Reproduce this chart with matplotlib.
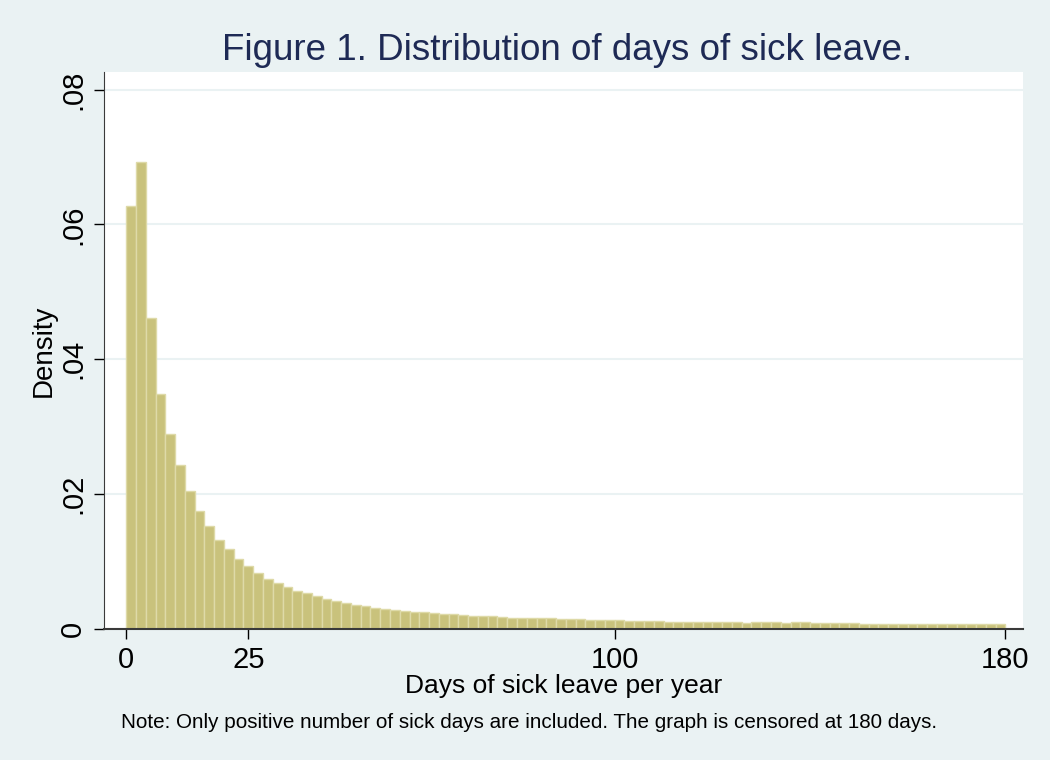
import numpy as np
import matplotlib.pyplot as plt

plt.rcParams['font.family'] = ['Liberation Sans Narrow', 'Liberation Sans', 'DejaVu Sans']

# density per 2-day bin (bins 0-2, 2-4, ..., 178-180)
bin_width = 2
density = [
    0.0628, 0.0692, 0.0461, 0.0348, 0.0289, 0.0243, 0.0205, 0.0175, 0.0153, 0.0132,
    0.0119, 0.0104, 0.0093, 0.0083, 0.0074, 0.0068, 0.0062, 0.0057, 0.0053, 0.0049,
    0.0045, 0.0041, 0.0038, 0.0035, 0.0034, 0.0031, 0.0030, 0.0028, 0.0027, 0.0025,
    0.0025, 0.0023, 0.0022, 0.0022, 0.0021, 0.0020, 0.0020, 0.0019, 0.0018, 0.0017,
    0.0017, 0.0017, 0.0016, 0.0016, 0.0015, 0.0015, 0.0015, 0.0014, 0.0014, 0.0013,
    0.0013, 0.0012, 0.0012, 0.0012, 0.0012, 0.0011, 0.0011, 0.0011, 0.0011, 0.0010,
    0.0010, 0.0011, 0.0010, 0.0009, 0.0010, 0.0010, 0.0010, 0.0009, 0.0010, 0.0010,
    0.0009, 0.0009, 0.0009, 0.0009, 0.0009, 0.0008, 0.0008, 0.0008, 0.0008, 0.0008,
    0.0008, 0.0008, 0.0007, 0.0007, 0.0007, 0.0007, 0.0007, 0.0007, 0.0007, 0.0007,
]
bin_left = np.arange(len(density)) * bin_width

x_ticks = [0, 25, 100, 180]
y_ticks = [0, 0.02, 0.04, 0.06, 0.08]
y_labels = ['0', '.02', '.04', '.06', '.08']

bg = '#EAF2F3'
fig = plt.figure(figsize=(10.5, 7.6), dpi=100, facecolor=bg)
ax = fig.add_axes([104 / 1050, 1 - 629 / 760, (1023 - 104) / 1050, (629 - 72) / 760])
ax.set_facecolor('white')

ax.bar(bin_left, density, width=bin_width, align='edge',
       color='#C9C27C', edgecolor='#DEDAA8', linewidth=1.0, zorder=2)

ax.set_xlim(-4.55, 183.6)
ax.set_ylim(0, 0.0826)
ax.set_xticks(x_ticks)
ax.set_yticks(y_ticks)
ax.set_yticklabels(y_labels, rotation=90, va='center')
ax.grid(axis='y', color=bg, linewidth=1.5, zorder=1)
ax.set_axisbelow(True)

for s in ['top', 'right']:
    ax.spines[s].set_visible(False)
ax.spines['left'].set_color('#3a3a3a')
ax.spines['bottom'].set_color('#3a3a3a')
ax.spines['bottom'].set_linewidth(1.5)
ax.tick_params(axis='both', direction='out', length=7, width=1, color='black',
               labelsize=21, pad=5)

ax.set_ylabel('Density', fontsize=20, labelpad=2)
ax.set_xlabel('Days of sick leave per year', fontsize=19, labelpad=0)

fig.text(567 / 1050, 1 - 51 / 760, 'Figure 1. Distribution of days of sick leave.',
         ha='center', va='center', fontsize=26.5, color='#1E2A55')
fig.text(529 / 1050, 1 - 722 / 760,
         'Note: Only positive number of sick days are included. The graph is censored at 180 days.',
         ha='center', va='center', fontsize=14.9)

fig.savefig('out.png', dpi=100, facecolor=bg)
